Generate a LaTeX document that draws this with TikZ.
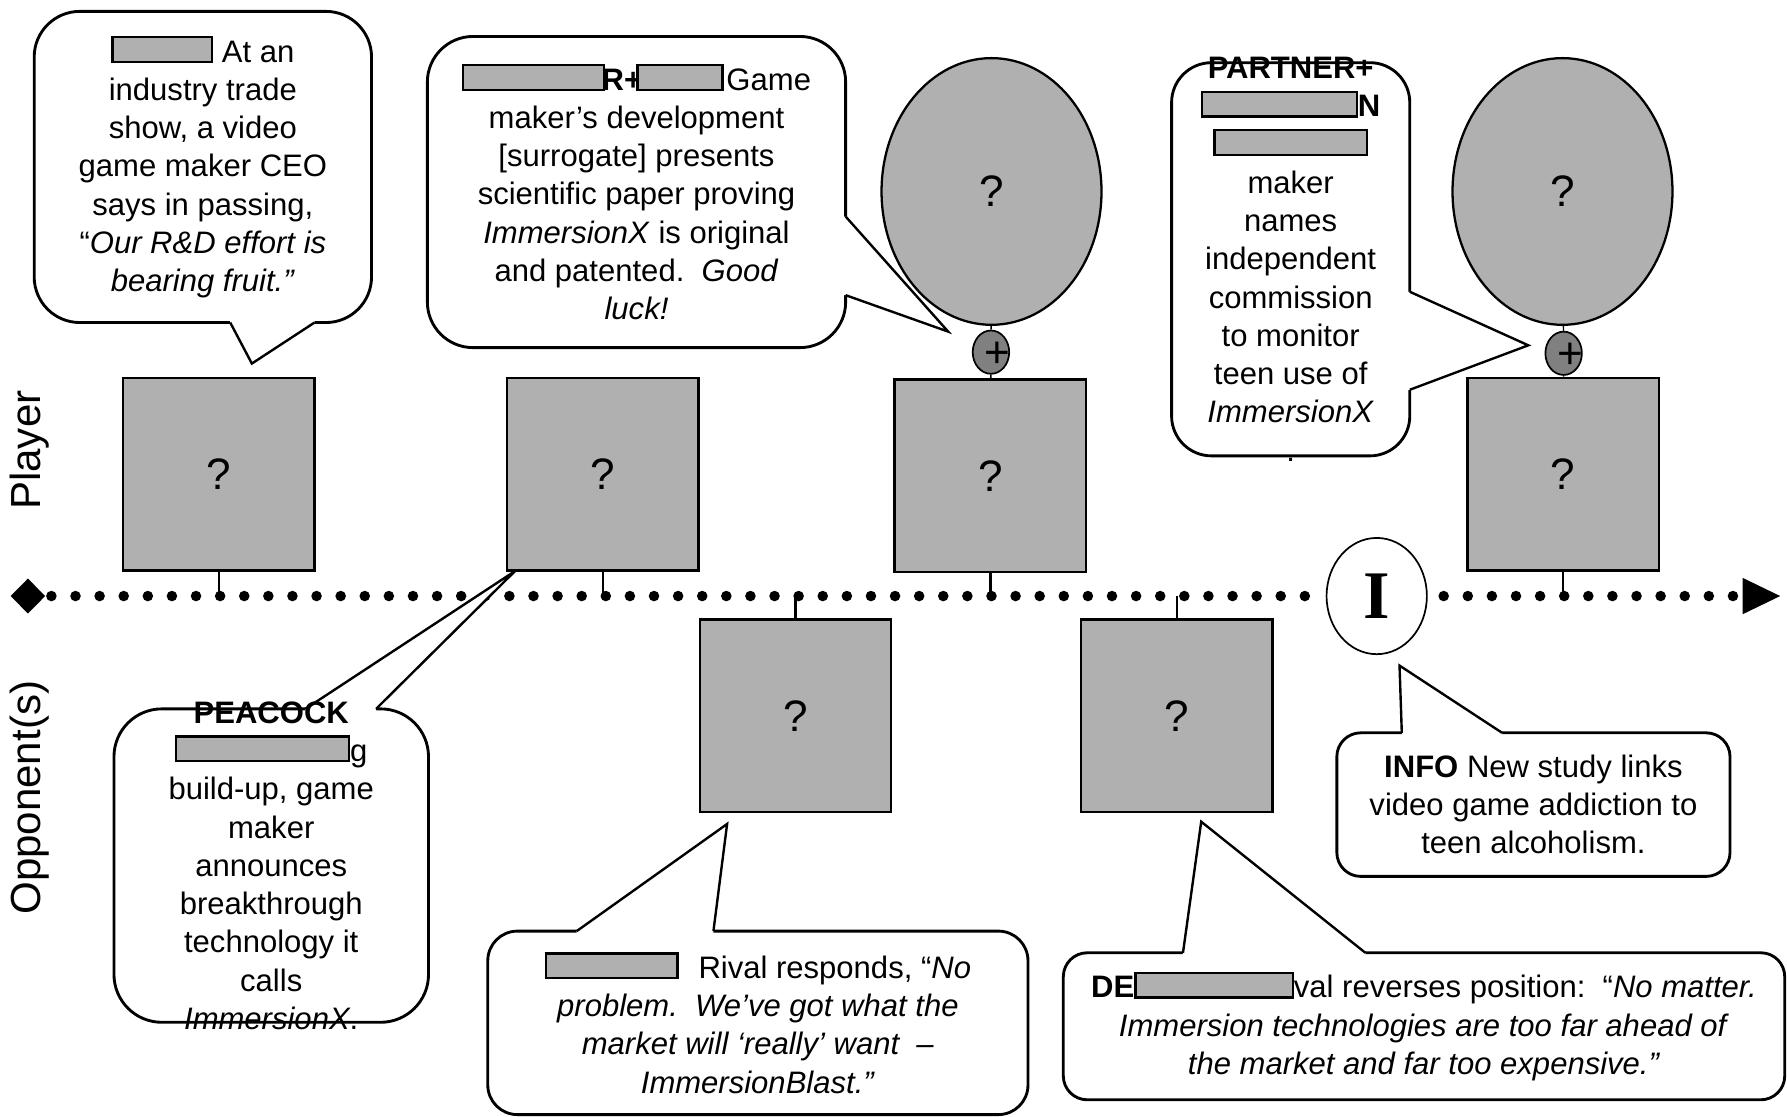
\documentclass[tikz,border=0pt]{standalone}
\usepackage{fontspec}
\setmainfont{Liberation Sans}
\newfontfamily\timesbold{Liberation Serif}
\usepackage{xcolor}
\usetikzlibrary{shapes.geometric}
\usetikzlibrary{calc}
\definecolor{boxgray}{gray}{0.69}
\definecolor{knobgray}{gray}{0.5}
\newcommand{\txtfont}{\fontsize{15.5}{19.1}\selectfont}
\newcommand{\redact}[1]{{\setlength{\fboxsep}{0pt}\setlength{\fboxrule}{0.4mm}\raisebox{0.05em}{\fcolorbox{black}{boxgray}{\rule{0pt}{0.72em}\hspace{#1}}}}}

\begin{document}
\begin{tikzpicture}[x=0.2mm, y=-0.2mm,
	qbox/.style={draw, line width=0.42mm, fill=boxgray, minimum width=33.6mm, minimum height=33.8mm, inner sep=0, font=\fontsize{22}{26}\selectfont},
	qoval/.style={ellipse, draw, line width=0.4mm, fill=boxgray, minimum width=38.6mm, minimum height=46.8mm, inner sep=0, font=\fontsize{22}{26}\selectfont},
	knob/.style={ellipse, draw, line width=0.3mm, fill=knobgray, minimum width=6.4mm, minimum height=7.6mm, inner sep=0},
	plus/.style={inner sep=0, font=\fontsize{22}{22}\selectfont},
	bubble/.style={draw, line width=0.5mm, fill=white, rounded corners=#1, inner sep=0},
	words/.style={align=center, inner sep=0, font=\txtfont},
	tail/.style={line width=0.42mm, line join=miter},
	tick/.style={line width=0.4mm},
	dotline/.style={line width=1.85mm, line cap=round, dash pattern=on 0pt off 4.23mm},
	side/.style={rotate=90, inner sep=0, font=\fontsize{21}{25}\selectfont}]
	\useasboundingbox (0,0) rectangle (1568,980);
	
	% side labels
	\node[side] (plabel) at (26,395) {Player};
	\node[side] (olabel) at (26,700) {Opponent(s)};
	
	% draw time line
	\coordinate (axis) at (0,523);
	\coordinate (stop) at (1529,523);
	\node[diamond, fill=black, minimum width=6.1mm, minimum height=6.2mm, inner sep=0] (start) at (24.5,523) {};
	\node[ellipse, draw, line width=0.3mm, fill=white, minimum width=17.6mm, minimum height=20.4mm, inner sep=0, font=\timesbold\bfseries\fontsize{34}{34}\selectfont] (info) at (1208,523) {I};
	\draw[dotline, shorten <=1mm] (start.east) -- (info.west);
	\draw[dotline, shorten <=2.8mm] (info.east) -- (stop);
	\fill (1529,507) -- (1562,523) -- (1529,539) -- cycle;
	
	% player moves
	\node[qbox] (p1) at (192,416) {?};
	\node[qbox] (p2) at (529,416) {?};
	\node[qbox] (p3) at (869,417.5) {?};
	\node[qbox] (p4) at (1371.5,416) {?};
	\node[qoval] (e1) at (870,168) {?};
	\node[qoval] (e2) at (1371,168) {?};
	\node[knob] (s1) at (869.5,309) {};
	\node[knob] (s2) at (1372,310) {};
	\node[plus] (plus1) at ($(s1)+(5.5,2.5)$) {+};
	\node[plus] (plus2) at ($(s2)+(5.5,2.5)$) {+};
	\draw[line width=0.25mm] (e1) -- (s1);
	\draw[line width=0.25mm] (s1) -- (p3);
	\draw[line width=0.25mm] (e2) -- (s2);
	\draw[line width=0.25mm] (s2) -- (p4);
	
	% opponent moves
	\node[qbox] (o1) at (698,628) {?};
	\node[qbox] (o2) at (1032.5,628) {?};
	
	% ticks onto the time line
	\draw[tick] (p1.south) -- (p1.south |- axis);
	\draw[tick] (p2.south) -- (p2.south |- axis);
	\draw[tick] (p3.south) -- (p3.south |- axis);
	\draw[tick] (p4.south) -- (p4.south |- axis);
	\draw[tick] (o1.north) -- (o1.north |- axis);
	\draw[tick] (o2.north) -- (o2.north |- axis);
	
	% callout A
	\node[bubble=8mm, minimum width=59.2mm, minimum height=54.6mm] (bA) at (178,146.5) {};
	\coordinate (tipA) at (221,319);
	\fill[white] (202,279) -- (202,283) -- (tipA) -- (276,283) -- (276,279) -- cycle;
	\draw[tail] (202,283) -- (tipA) -- (276,283);
	\node[words] (tA) at (bA) {\redact{17.1mm} At an\\ industry trade\\ show, a video\\ game maker CEO\\ says in passing,\\ “\textit{Our R\&D effort is}\\ \textit{bearing fruit.”}};
	
	% callout B
	\node[bubble=8mm, minimum width=73.4mm, minimum height=54.6mm] (bB) at (558.5,168.5) {};
	\coordinate (tipB) at (832,291);
	\fill[white] (738,190) -- (742,190) -- (tipB) -- (742,259) -- (738,259) -- cycle;
	\draw[tail] (742,190) -- (tipB) -- (742,259);
	\node[words] (tB) at (bB) {\redact{24.3mm}\hspace{-0.6mm}\textbf{R+}\hspace{-1mm}\redact{14.5mm}\hspace{0.5mm}Game\\ maker’s development\\ {[surrogate]} presents\\ scientific paper proving\\ \textit{ImmersionX} is original\\ and patented.\ \ \textit{Good}\\ \textit{luck!}};
	
	% callout C
	\node[bubble=7mm, minimum width=41.8mm, minimum height=69mm] (bC) at (1132.5,227.5) {};
	\coordinate (tipC) at (1341,303);
	\fill[white] (1233,256) -- (1237,256) -- (tipC) -- (1237,342) -- (1233,342) -- cycle;
	\draw[tail] (1237,256) -- (tipC) -- (1237,342);
	\node[words] (tC) at (bC) {\textbf{PARTNER+}\\ \redact{26.7mm}\textbf{N}\\ \redact{26.3mm}\\ maker\\ names\\ independent\\ commission\\ to monitor\\ teen use of\\ \textit{ImmersionX}\\ .};
	
	% callout D
	\node[bubble=8.4mm, minimum width=55.2mm, minimum height=55mm] (bD) at (238,759.5) {};
	\coordinate (tipD) at (452,501);
	\fill[white] (268,626) -- (268,622) -- (tipD) -- (330,622) -- (330,626) -- cycle;
	\draw[tail] (268,622) -- (tipD) -- (330,622);
	\node[words] (tD) at (bD) {\textbf{PEACOCK}\\ \redact{29.9mm}g\\ build-up, game\\ maker\\ announces\\ breakthrough\\ technology it\\ calls\\ \textit{ImmersionX}.};
	
	% callout E
	\node[bubble=5.2mm, minimum width=94.8mm, minimum height=32.2mm] (bE) at (665,897.5) {};
	\coordinate (tipE) at (638,723);
	\fill[white] (506,821) -- (506,817) -- (tipE) -- (626,817) -- (626,821) -- cycle;
	\draw[tail] (506,817) -- (tipE) -- (626,817);
	\node[words] (tE) at (bE) {\redact{22.7mm}\hspace{3.5mm}Rival responds, “\textit{No}\\ \textit{problem.\ \ We’ve got what the}\\ \textit{market will ‘really’ want\ \ –}\\ \textit{ImmersionBlast.”}};
	
	% callout F
	\node[bubble=4.2mm, minimum width=126.6mm, minimum height=25.8mm] (bF) at (1249.5,900.5) {};
	\coordinate (tipF) at (1054,721);
	\fill[white] (1038,840) -- (1038,836) -- (tipF) -- (1198,836) -- (1198,840) -- cycle;
	\draw[tail] (1038,836) -- (tipF) -- (1198,836);
	\node[words] (tF) at (bF) {\textbf{DE}\redact{27.2mm}val reverses position:\ \ “\textit{No matter.}\\ \textit{Immersion technologies are too far ahead of}\\ \textit{the market and far too expensive.”}};
	
	% callout G
	\node[bubble=4.2mm, minimum width=69mm, minimum height=25.2mm] (bG) at (1345.5,706) {};
	\coordinate (tipG) at (1228,584);
	\fill[white] (1230,647) -- (1230,643) -- (tipG) -- (1318,643) -- (1318,647) -- cycle;
	\draw[tail] (1230,643) -- (tipG) -- (1318,643);
	\node[words] (tG) at (bG) {\textbf{INFO} New study links\\ video game addiction to\\ teen alcoholism.};
\end{tikzpicture}
\end{document}
